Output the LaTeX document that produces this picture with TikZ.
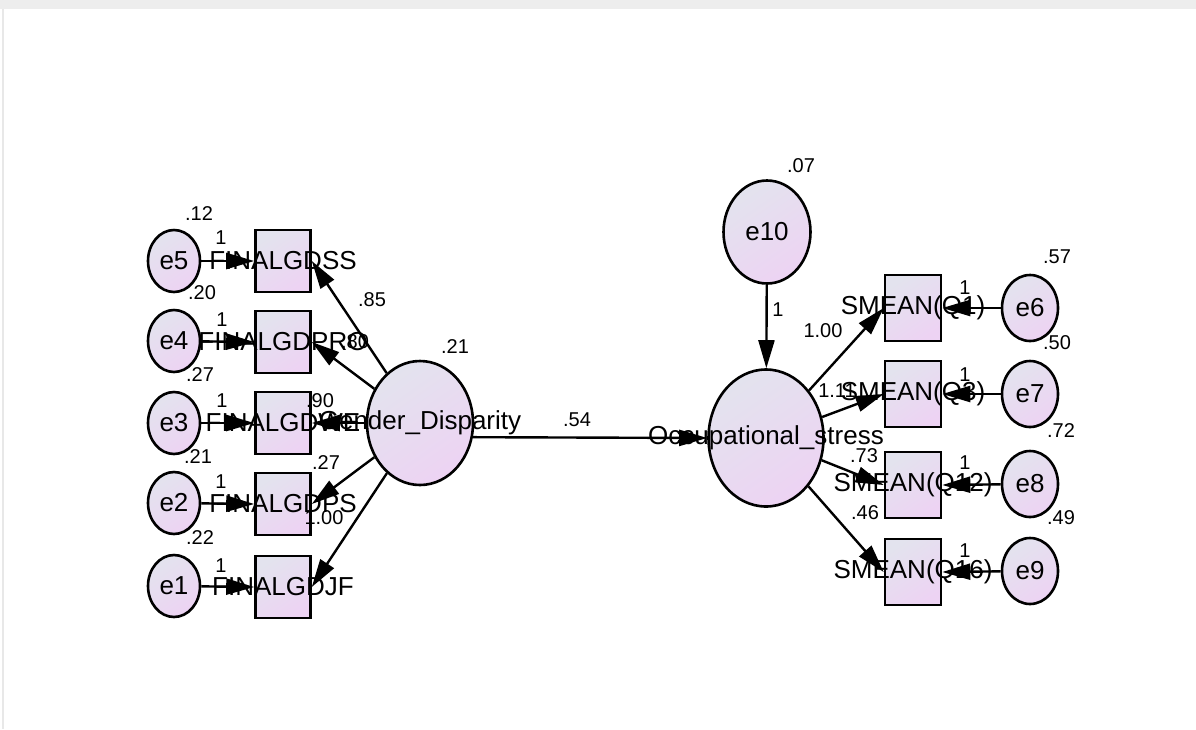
\documentclass[tikz,border=0pt]{standalone}
\usepackage{fontspec}
\setmainfont{Liberation Sans}
\usetikzlibrary{arrows.meta,shapes.geometric}

\definecolor{shadeA}{HTML}{E3E3EE}
\definecolor{shadeB}{HTML}{EDD3F3}
\definecolor{frameGray}{HTML}{E8E8E8}

\tikzset{
  semfill/.style={top color=shadeA, bottom color=shadeB, shading angle=35},
  vname/.style={font=\fontsize{26}{30}\selectfont, inner sep=0pt},
  est/.style={font=\fontsize{20}{24}\selectfont, inner sep=0pt},
  ovalvar/.style={ellipse, draw=black, line width=2.6pt, semfill, inner sep=0pt},
  errL/.style={ovalvar, minimum width=52pt, minimum height=62pt},
  errR/.style={ovalvar, minimum width=56pt, minimum height=66pt},
  obsL/.style={rectangle, draw=black, line width=2.6pt, semfill, inner sep=0pt,
               minimum width=55pt, minimum height=62pt},
  obsR/.style={obsL, minimum width=56pt, minimum height=66pt},
  regpath/.style={draw=black, line width=2.4pt, -{Triangle[length=28pt,width=16pt]}},
}

\begin{document}
\begin{tikzpicture}[x=1pt,y=-1pt]
\useasboundingbox (0,0) rectangle (1196,729);
\fill[white] (0,0) rectangle (1196,729);
% window frame
\fill[frameGray!80] (0,0) rectangle (1196,9);
\fill[frameGray] (1.5,9) rectangle (4,729);

% exogenous latent factor and its indicators
\node[ovalvar, minimum width=106pt, minimum height=124pt,
      label={[vname]center:Gender\_Disparity}] (GD) at (420,423) {};

\node[obsL, label={[vname]center:FINALGDSS}]  (x5) at (283,261) {};
\node[obsL, label={[vname]center:FINALGDPRO}] (x4) at (283,342) {};
\node[obsL, label={[vname]center:FINALGDWE}]  (x3) at (283,423) {};
\node[obsL, label={[vname]center:FINALGDPS}]  (x2) at (283,504) {};
\node[obsL, label={[vname]center:FINALGDJF}]  (x1) at (283,587) {};

\node[errL, vname] (e5) at (174,261) {e5};
\node[errL, vname] (e4) at (174,341) {e4};
\node[errL, vname] (e3) at (174,423) {e3};
\node[errL, vname] (e2) at (174,503) {e2};
\node[errL, vname] (e1) at (174,586) {e1};

% endogenous latent factor and its indicators
\node[ovalvar, minimum width=115pt, minimum height=137pt,
      label={[vname]center:Occupational\_stress}] (OS) at (766,438) {};
\node[ovalvar, minimum width=87pt, minimum height=103pt, vname] (e10) at (767,232) {e10};

\node[obsR, label={[vname]center:SMEAN(Q1)}]  (y1) at (913,308) {};
\node[obsR, label={[vname]center:SMEAN(Q3)}]  (y2) at (913,394) {};
\node[obsR, label={[vname]center:SMEAN(Q12)}] (y3) at (913,485) {};
\node[obsR, label={[vname]center:SMEAN(Q16)}] (y4) at (913,572) {};

\node[errR, vname] (e6) at (1030,308) {e6};
\node[errR, vname] (e7) at (1030,394) {e7};
\node[errR, vname] (e8) at (1030,484) {e8};
\node[errR, vname] (e9) at (1030,571) {e9};

% error paths
\foreach \e/\x in {e5/x5,e4/x4,e3/x3,e2/x2,e1/x1}
  \draw[regpath] (\e) -- (\x.west);
\foreach \e/\y in {e6/y1,e7/y2,e8/y3,e9/y4}
  \draw[regpath] (\e) -- (\y.east);

% loadings
\foreach \x in {x5,x4,x3,x2,x1}
  \draw[regpath] (GD) -- (\x.east);
\foreach \y in {y1,y2,y3,y4}
  \draw[regpath] (OS) -- (\y.west);

% structural paths
\draw[regpath] (GD.-15) -- (OS.west);
\draw[regpath] (e10) -- (OS);

% estimates: left side
\node[est] (v5) at (199,214) {.12};
\node[est] (v4) at (202,293) {.20};
\node[est] (v3) at (200,375) {.27};
\node[est] (v2) at (198,457) {.21};
\node[est] (v1) at (200,538) {.22};
\node[est] (f5) at (221,238) {1};
\node[est] (f4) at (222,320) {1};
\node[est] (f3) at (222,401) {1};
\node[est] (f2) at (221,482) {1};
\node[est] (f1) at (221,566) {1};
\node[est] (l5) at (372,300) {.85};
\node[est] (l4) at (355,342) {.80};
\node[est] (l3) at (320,401) {.90};
\node[est] (l2) at (326,463) {.27};
\node[est] (l1) at (324,518) {1.00};
\node[est] (vGD) at (455,347) {.21};
\node[est] (bOS) at (577,420) {.54};

% estimates: right side
\node[est] (v10) at (801,166) {.07};
\node[est] (f10) at (778,310) {1};
\node[est] (m1) at (823,331) {1.00};
\node[est] (m2) at (837,391) {1.11};
\node[est] (m3) at (864,456) {.73};
\node[est] (m4) at (865,513) {.46};
\node[est] (g1) at (965,288) {1};
\node[est] (g2) at (965,375) {1};
\node[est] (g3) at (965,463) {1};
\node[est] (g4) at (965,551) {1};
\node[est] (v6) at (1057,257) {.57};
\node[est] (v7) at (1057,343) {.50};
\node[est] (v8) at (1061,431) {.72};
\node[est] (v9) at (1061,518) {.49};
\end{tikzpicture}
\end{document}
